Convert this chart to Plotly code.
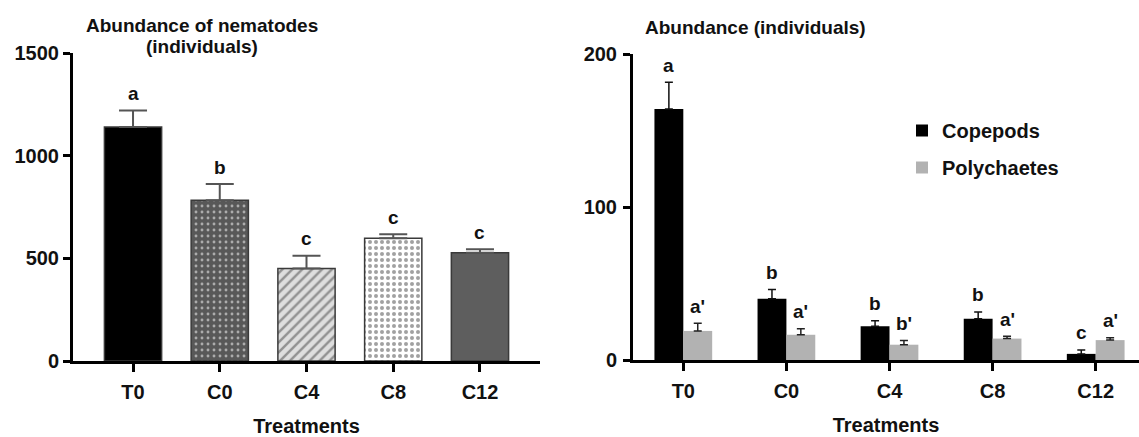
import plotly.graph_objects as go

# ---------------- data ----------------
treatments = ["T0", "C0", "C4", "C8", "C12"]

nematodes = [1140, 783, 451, 598, 527]
nematodes_err = [80, 79, 62, 19, 17]
nematodes_letters = ["a", "b", "c", "c", "c"]

copepods = [164, 40, 22, 27, 4]
copepods_err = [17.5, 6, 3.7, 4.4, 2.6]
copepods_letters = ["a", "b", "b", "b", "c"]

polychaetes = [19, 16.5, 10, 14, 13]
polychaetes_err = [5, 4, 2.7, 1.5, 1.6]
polychaetes_letters = ["a'", "a'", "b'", "a'", "a'"]

left_ticks = [0, 500, 1000, 1500]
right_ticks = [0, 100, 200]

# ---------------- style ----------------
FONT = "Liberation Sans, Arial, sans-serif"
W, H = 1139, 437
idx = list(range(len(treatments)))

bar_bg = ["#000000", "#585858", "#dedede", "#ffffff", "#5e5e5e"]
pat_shapes = ["", ".", "/", ".", ""]
pat_fg = ["#000000", "#1a1a1a", "#707070", "#7a7a7a", "#5e5e5e"]
pat_size = [8, 6, 7, 6, 8]
pat_solid = [0.3, 0.18, 0.35, 0.35, 0.3]

fig = go.Figure()

fig.add_trace(go.Bar(
    x=idx, y=nematodes, width=0.66,
    marker=dict(color=bar_bg,
                pattern=dict(shape=pat_shapes, fgcolor=pat_fg,
                             size=pat_size, solidity=pat_solid, fillmode="overlay"),
                line=dict(color="#3a3a3a", width=1.5)),
    error_y=dict(type="data", array=nematodes_err, arrayminus=[0] * 5, symmetric=False,
                 color="#555555", thickness=2, width=14),
    xaxis="x", yaxis="y", showlegend=False, name="Nematodes"))

fig.add_trace(go.Bar(
    x=idx, y=copepods, width=0.28, offset=-0.28, name="Copepods",
    marker=dict(color="#000000", line=dict(width=0)),
    error_y=dict(type="data", array=copepods_err, arrayminus=[0] * 5, symmetric=False,
                 color="#111111", thickness=1.5, width=4),
    xaxis="x2", yaxis="y2", legendgroup="g1"))

fig.add_trace(go.Bar(
    x=idx, y=polychaetes, width=0.28, offset=0.0, name="Polychaetes",
    marker=dict(color="#b2b2b2", line=dict(width=0)),
    error_y=dict(type="data", array=polychaetes_err, arrayminus=[0] * 5, symmetric=False,
                 color="#222222", thickness=1.5, width=4),
    xaxis="x2", yaxis="y2", legendgroup="g2"))

letter_font = dict(family=FONT, size=19, color="#111", weight="bold")
annotations = []
for i in idx:
    annotations.append(dict(x=i, y=nematodes[i] + nematodes_err[i], xref="x", yref="y",
                            text=nematodes_letters[i], showarrow=False, yanchor="middle",
                            xanchor="center", yshift=17, font=letter_font))
    annotations.append(dict(x=i - 0.14, y=copepods[i] + copepods_err[i], xref="x2", yref="y2",
                            text=copepods_letters[i], showarrow=False, yanchor="middle",
                            xanchor="center", yshift=17, font=letter_font))
    annotations.append(dict(x=i + 0.14, y=polychaetes[i] + polychaetes_err[i], xref="x2", yref="y2",
                            text=polychaetes_letters[i], showarrow=False, yanchor="middle",
                            xanchor="center", yshift=17, font=letter_font))

# titles
title_font = dict(family=FONT, size=19, color="#111", weight="bold")
annotations.append(dict(x=202 / W, y=1 - 25 / H, xref="paper", yref="paper",
                        text="Abundance of nematodes", showarrow=False,
                        xanchor="center", yanchor="middle", font=title_font))
annotations.append(dict(x=202 / W, y=1 - 47 / H, xref="paper", yref="paper",
                        text="(individuals)", showarrow=False,
                        xanchor="center", yanchor="middle", font=title_font))
annotations.append(dict(x=755 / W, y=1 - 27 / H, xref="paper", yref="paper",
                        text="Abundance (individuals)", showarrow=False,
                        xanchor="center", yanchor="middle", font=title_font))

tickfont = dict(family=FONT, size=20, color="#111", weight="bold")
axtitlefont = dict(family=FONT, size=20, color="#111", weight="bold")

common_x = dict(showgrid=False, zeroline=False, showline=True, linewidth=3, linecolor="#000",
                ticks="outside", ticklen=8, tickwidth=3, tickcolor="#000",
                tickvals=idx, ticktext=treatments, tickfont=tickfont,
                ticklabelstandoff=3, automargin=False,
                title=dict(text="Treatments", font=axtitlefont, standoff=17))
common_y = dict(showgrid=False, zeroline=False, showline=True, linewidth=3, linecolor="#000",
                ticks="outside", ticklen=7, tickwidth=2.5, tickcolor="#000",
                tickfont=tickfont, automargin=False)

fig.update_layout(
    width=W, height=H,
    margin=dict(l=0, r=0, t=0, b=0, pad=0, autoexpand=False),
    paper_bgcolor="white", plot_bgcolor="white",
    barmode="overlay",
    font=dict(family=FONT, color="#111"),
    xaxis=dict(domain=[73 / W, 540 / W], range=[-0.692, 4.692], anchor="y", **common_x),
    yaxis=dict(domain=[(H - 361) / H, (H - 53) / H], range=[0, 1500], tickvals=left_ticks,
               anchor="x", ticklabelstandoff=0, **common_y),
    xaxis2=dict(domain=[633 / W, 1.0], range=[-0.488, 4.42], anchor="y2", **common_x),
    yaxis2=dict(domain=[(H - 360) / H, (H - 54) / H], range=[0, 200], tickvals=right_ticks,
                anchor="x2", ticklabelstandoff=2, **common_y),
    legend=dict(x=902 / W, y=1 - 111 / H, xanchor="left", yanchor="top",
                font=dict(family=FONT, size=20, color="#111", weight="bold"),
                bgcolor="rgba(0,0,0,0)", tracegroupgap=8, traceorder="grouped"),
    annotations=annotations,
)

fig.write_html(
    "out.html",
    config={"displayModeBar": False},
    post_script="document.body.style.margin='0';document.body.style.overflow='hidden';",
)
